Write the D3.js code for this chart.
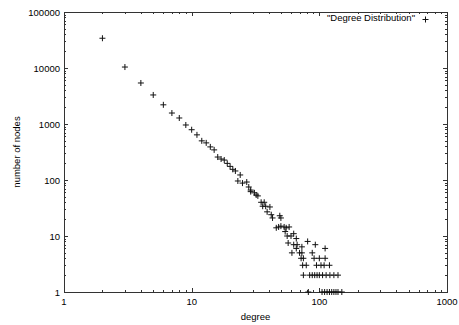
<!DOCTYPE html>
<html>
<head>
<meta charset="utf-8">
<script src="https://cdn.jsdelivr.net/npm/d3@7"></script>
<style>
body { margin: 0; background: #fff; }
text { font-family: "Liberation Sans", Arial, sans-serif; font-size: 9.5px; fill: #000; }
</style>
</head>
<body>
<div id="cont"></div>
<script>

// Data //

var degrees = [2, 3, 4, 5, 6, 7, 8, 9, 10, 11, 12, 13, 14, 15, 16, 17, 18, 19, 20, 21, 22,
	23, 24, 25, 27, 28, 29, 29, 31, 32, 33, 35, 36, 37, 38, 39, 41, 42, 43, 46, 48, 49, 50,
	50, 53, 54, 55, 56, 57, 58, 60, 61, 63, 63, 66, 66, 67, 70, 73, 73, 81, 88, 93, 111,
	72, 75, 91, 100, 111,
	74, 79, 95, 103, 109, 120,
	75, 84, 88, 92, 96, 100, 106, 113, 121, 130, 140,
	82, 105, 110, 115, 120, 125, 130, 135, 140, 150];
var counts = [34000, 10400, 5400, 3300, 2200, 1570, 1280, 960, 790, 640, 500, 460, 390, 345, 257, 237, 227, 198, 175, 155, 145,
	96, 123, 88, 92, 75, 66, 62, 59, 54, 52, 40, 34, 40, 34, 27, 33, 24, 21, 14, 14.5, 23, 15,
	21, 14.5, 12, 14, 10, 7.5, 14.5, 10, 5, 11, 7, 9, 6, 7, 5, 6.4, 5, 8, 5, 7, 6,
	4, 4, 4, 4, 4,
	3, 3, 3, 3, 3, 3,
	2, 2, 2, 2, 2, 2, 2, 2, 2, 2, 2,
	1, 1, 1, 1, 1, 1, 1, 1, 1, 1];

var xTickLabels = ["1", "10", "100", "1000"];
var yTickLabels = ["1", "10", "100", "1000", "10000", "100000"];
var seriesName = "\"Degree Distribution\"";

// SVG Stuff //

var svg = d3.select("#cont").append("svg").attr("width", 459).attr("height", 325);

var pLeft = 64, pRight = 447, pTop = 12, pBottom = 292;

var x = d3.scaleLog().base(10).domain([1, 1000]).range([pLeft, pRight]);
var y = d3.scaleLog().base(10).domain([1, 100000]).range([pBottom, pTop]);

var minorX = [], minorY = [];
[1, 10, 100].forEach(function(b) {
	for (var i = 2; i < 10; i++) minorX.push(b * i);
});
[1, 10, 100, 1000, 10000].forEach(function(b) {
	for (var i = 2; i < 10; i++) minorY.push(b * i);
});
var majorX = xTickLabels.map(Number);
var majorY = yTickLabels.map(Number);

var tickStroke = "#333";

// ticks, mirrored on all four sides
var tk = svg.append("g").attr("stroke", tickStroke).attr("stroke-width", 1).attr("shape-rendering", "crispEdges");
var addXTicks = function(vals, len) {
	vals.forEach(function(v) {
		var px = Math.round(x(v)) + 0.5;
		tk.append("line").attr("x1", px).attr("x2", px).attr("y1", pBottom).attr("y2", pBottom - len);
		tk.append("line").attr("x1", px).attr("x2", px).attr("y1", pTop).attr("y2", pTop + len);
	});
};
var addYTicks = function(vals, len) {
	vals.forEach(function(v) {
		var py = Math.round(y(v)) + 0.5;
		tk.append("line").attr("y1", py).attr("y2", py).attr("x1", pLeft).attr("x2", pLeft + len);
		tk.append("line").attr("y1", py).attr("y2", py).attr("x1", pRight).attr("x2", pRight - len);
	});
};
addXTicks(majorX, 4);
addXTicks(minorX, 2);
addYTicks(majorY, 4);
addYTicks(minorY, 2);

svg.append("rect")
	.attr("x", pLeft + 0.5).attr("y", pTop + 0.5)
	.attr("width", pRight - pLeft).attr("height", pBottom - pTop)
	.attr("fill", "none").attr("stroke", tickStroke).attr("stroke-width", 1)
	.attr("shape-rendering", "crispEdges");

// tick labels
svg.selectAll(".xl").data(xTickLabels).enter().append("text")
	.attr("x", function(d) { return x(+d); })
	.attr("y", pBottom + 13)
	.attr("text-anchor", "middle")
	.text(function(d) { return d; });

svg.selectAll(".yl").data(yTickLabels).enter().append("text")
	.attr("x", pLeft - 4)
	.attr("y", function(d) { return y(+d) + 3.5; })
	.attr("text-anchor", "end")
	.text(function(d) { return d; });

// axis titles
svg.append("text").attr("x", (pLeft + pRight) / 2).attr("y", 320)
	.attr("text-anchor", "middle").text("degree");
svg.append("text")
	.attr("transform", "translate(20," + ((pTop + pBottom) / 2) + ") rotate(-90)")
	.attr("text-anchor", "middle").text("number of nodes");

// points
var plus = function(sel, cx, cy) {
	sel.append("path")
		.attr("d", "M" + (cx - 3) + "," + cy + "H" + (cx + 3) + "M" + cx + "," + (cy - 3) + "V" + (cy + 3))
		.attr("stroke", "#111").attr("stroke-width", 1).attr("fill", "none");
};

var pts = svg.append("g");
degrees.forEach(function(d, i) {
	plus(pts, x(d), y(counts[i]));
});

// legend
svg.append("text").attr("x", 415).attr("y", 20.5).attr("text-anchor", "end").text(seriesName);
plus(svg, 425.5, 19.5);

</script>
</body>
</html>
